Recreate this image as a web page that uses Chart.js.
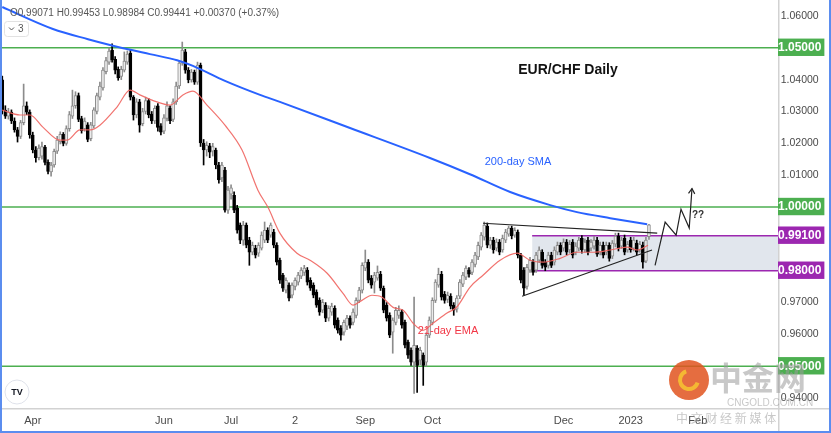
<!DOCTYPE html>
<html>
<head>
<meta charset="utf-8">
<title>EUR/CHF Daily</title>
<script src="https://cdn.jsdelivr.net/npm/chart.js@4.4.0/dist/chart.umd.min.js"></script>
<style>
  html, body { margin: 0; padding: 0; background: #fff; overflow: hidden; }
  canvas { display: block; }
</style>
</head>
<body>
<canvas id="chart" width="831" height="433"></canvas>
<script>
'use strict';

/* ─── Daily candles (index 0 = mid-March 2022, one per weekday) ─── */
const opens = [
  1.0399,1.0304,1.0285,1.0298,1.0270,1.0242,1.0222,1.0265,1.0318,1.0298,
  1.0226,1.0179,1.0155,1.0160,1.0188,1.0140,1.0110,1.0132,1.0175,1.0205,
  1.0228,1.0200,1.0246,1.0285,1.0318,1.0350,1.0278,1.0246,1.0258,1.0215,
  1.0255,1.0300,1.0345,1.0374,1.0425,1.0455,1.0493,1.0464,1.0432,1.0410,
  1.0430,1.0455,1.0483,1.0345,1.0289,1.0330,1.0262,1.0300,1.0334,1.0292,
  1.0270,1.0318,1.0255,1.0238,1.0278,1.0310,1.0275,1.0330,1.0380,1.0452,
  1.0487,1.0430,1.0399,1.0424,1.0392,1.0446,1.0201,1.0179,1.0192,1.0175,
  1.0179,1.0132,1.0091,1.0116,0.9990,1.0040,1.0037,0.9997,0.9943,0.9896,
  0.9943,0.9896,0.9858,0.9871,0.9855,0.9871,0.9896,0.9927,0.9912,0.9921,
  0.9880,0.9833,0.9786,0.9739,0.9755,0.9723,0.9751,0.9764,0.9783,0.9795,
  0.9802,0.9770,0.9755,0.9733,0.9707,0.9676,0.9692,0.9651,0.9670,0.9682,
  0.9645,0.9620,0.9607,0.9626,0.9651,0.9638,0.9660,0.9707,0.9739,0.9808,
  0.9827,0.9777,0.9764,0.9777,0.9789,0.9745,0.9692,0.9660,0.9607,0.9638,
  0.9660,0.9670,0.9638,0.9576,0.9550,0.9513,0.9557,0.9519,0.9535,0.9513,
  0.9598,0.9638,0.9707,0.9755,0.9789,0.9726,0.9710,0.9720,0.9692,0.9679,
  0.9720,0.9758,0.9780,0.9802,0.9795,0.9820,0.9843,0.9874,0.9905,0.9940,
  0.9880,0.9896,0.9871,0.9890,0.9865,0.9896,0.9915,0.9934,0.9912,0.9921,
  0.9849,0.9802,0.9751,0.9802,0.9827,0.9802,0.9833,0.9858,0.9827,0.9817,
  0.9849,0.9827,0.9858,0.9880,0.9871,0.9890,0.9865,0.9890,0.9858,0.9871,
  0.9902,0.9865,0.9896,0.9871,0.9877,0.9896,0.9858,0.9880,0.9858,0.9880,
  0.9846,0.9883,0.9909,0.9877,0.9902,0.9865,0.9896,0.9871,0.9887,0.9865,
  0.9880,0.9830,0.99071
];
const highs = [
  1.0411,1.0318,1.0310,1.0305,1.0280,1.0250,1.0272,1.0386,1.0330,1.0305,
  1.0235,1.0190,1.0195,1.0204,1.0194,1.0148,1.0140,1.0182,1.0222,1.0236,
  1.0234,1.0255,1.0300,1.0367,1.0362,1.0358,1.0285,1.0280,1.0265,1.0266,
  1.0312,1.0358,1.0392,1.0438,1.0470,1.0500,1.0512,1.0472,1.0440,1.0442,
  1.0487,1.0490,1.0493,1.0350,1.0340,1.0338,1.0310,1.0345,1.0340,1.0300,
  1.0318,1.0325,1.0262,1.0290,1.0330,1.0318,1.0340,1.0392,1.0460,1.0518,
  1.0495,1.0438,1.0432,1.0430,1.0455,1.0452,1.0212,1.0205,1.0200,1.0200,
  1.0185,1.0140,1.0140,1.0125,1.0065,1.0070,1.0048,1.0005,0.9950,0.9955,
  0.9950,0.9905,0.9890,0.9880,0.9888,0.9922,0.9953,0.9935,0.9950,0.9930,
  0.9888,0.9840,0.9792,0.9778,0.9762,0.9762,0.9778,0.9795,0.9810,0.9817,
  0.9810,0.9778,0.9762,0.9740,0.9715,0.9710,0.9700,0.9690,0.9698,0.9690,
  0.9652,0.9628,0.9645,0.9660,0.9658,0.9680,0.9715,0.9748,0.9825,0.9865,
  0.9835,0.9785,0.9795,0.9815,0.9798,0.9752,0.9700,0.9668,0.9652,0.9685,
  0.9690,0.9678,0.9645,0.9582,0.9558,0.9717,0.9565,0.9560,0.9542,0.9605,
  0.9655,0.9715,0.9772,0.9808,0.9798,0.9735,0.9733,0.9728,0.9700,0.9722,
  0.9772,0.9795,0.9815,0.9810,0.9835,0.9858,0.9890,0.9920,0.9953,0.9950,
  0.9905,0.9905,0.9900,0.9898,0.9912,0.9930,0.9940,0.9940,0.9935,0.9928,
  0.9855,0.9810,0.9820,0.9842,0.9835,0.9858,0.9875,0.9866,0.9835,0.9858,
  0.9858,0.9875,0.9890,0.9888,0.9900,0.9898,0.9895,0.9898,0.9888,0.9905,
  0.9910,0.9900,0.9905,0.9898,0.9908,0.9905,0.9890,0.9890,0.9890,0.9888,
  0.9895,0.9918,0.9918,0.9905,0.9912,0.9892,0.9905,0.9905,0.9896,0.9892,
  0.9890,0.9905,0.99453
];
const lows = [
  1.0292,1.0278,1.0276,1.0262,1.0235,1.0204,1.0215,1.0258,1.0290,1.0216,
  1.0170,1.0141,1.0148,1.0150,1.0132,1.0104,1.0097,1.0125,1.0168,1.0198,
  1.0192,1.0194,1.0238,1.0278,1.0310,1.0268,1.0232,1.0238,1.0205,1.0208,
  1.0248,1.0292,1.0336,1.0367,1.0418,1.0448,1.0455,1.0418,1.0398,1.0400,
  1.0424,1.0448,1.0336,1.0273,1.0280,1.0235,1.0255,1.0292,1.0280,1.0262,
  1.0262,1.0238,1.0226,1.0230,1.0270,1.0262,1.0268,1.0322,1.0372,1.0445,
  1.0420,1.0390,1.0392,1.0385,1.0385,1.0190,1.0132,1.0160,1.0155,1.0160,
  1.0120,1.0075,1.0080,0.9984,0.9980,1.0025,0.9982,0.9918,0.9885,0.9880,
  0.9872,0.9817,0.9850,0.9840,0.9845,0.9865,0.9888,0.9888,0.9905,0.9872,
  0.9818,0.9760,0.9735,0.9730,0.9705,0.9715,0.9740,0.9755,0.9775,0.9785,
  0.9755,0.9738,0.9715,0.9685,0.9660,0.9668,0.9640,0.9642,0.9660,0.9620,
  0.9604,0.9582,0.9598,0.9615,0.9620,0.9630,0.9652,0.9700,0.9730,0.9800,
  0.9762,0.9745,0.9730,0.9770,0.9738,0.9668,0.9642,0.9590,0.9541,0.9630,
  0.9650,0.9620,0.9558,0.9525,0.9503,0.9415,0.9418,0.9505,0.9440,0.9500,
  0.9590,0.9630,0.9700,0.9748,0.9708,0.9698,0.9700,0.9680,0.9660,0.9670,
  0.9712,0.9750,0.9772,0.9780,0.9788,0.9812,0.9835,0.9865,0.9896,0.9872,
  0.9870,0.9855,0.9862,0.9850,0.9858,0.9888,0.9908,0.9900,0.9905,0.9840,
  0.9762,0.9723,0.9742,0.9795,0.9786,0.9795,0.9825,0.9808,0.9800,0.9808,
  0.9810,0.9818,0.9850,0.9850,0.9862,0.9850,0.9855,0.9840,0.9850,0.9862,
  0.9855,0.9858,0.9850,0.9862,0.9868,0.9845,0.9850,0.9840,0.9850,0.9830,
  0.9838,0.9875,0.9862,0.9870,0.9850,0.9858,0.9858,0.9862,0.9850,0.9858,
  0.9808,0.9825,0.98984
];
const closes = [
  1.0304,1.0285,1.0298,1.0270,1.0242,1.0222,1.0265,1.0318,1.0298,1.0226,
  1.0179,1.0155,1.0185,1.0190,1.0140,1.0112,1.0132,1.0175,1.0210,1.0228,
  1.0200,1.0246,1.0290,1.0318,1.0350,1.0275,1.0240,1.0270,1.0212,1.0258,
  1.0305,1.0350,1.0380,1.0430,1.0460,1.0490,1.0462,1.0430,1.0405,1.0432,
  1.0458,1.0480,1.0345,1.0289,1.0330,1.0257,1.0300,1.0334,1.0289,1.0270,
  1.0310,1.0250,1.0235,1.0280,1.0318,1.0270,1.0330,1.0380,1.0452,1.0493,
  1.0430,1.0399,1.0424,1.0392,1.0446,1.0201,1.0179,1.0194,1.0172,1.0190,
  1.0132,1.0085,1.0132,0.9990,1.0053,1.0060,0.9990,0.9927,0.9896,0.9943,
  0.9880,0.9858,0.9880,0.9849,0.9880,0.9912,0.9927,0.9896,0.9943,0.9880,
  0.9827,0.9770,0.9745,0.9770,0.9714,0.9755,0.9770,0.9786,0.9802,0.9808,
  0.9764,0.9745,0.9723,0.9692,0.9670,0.9701,0.9651,0.9682,0.9689,0.9629,
  0.9613,0.9598,0.9638,0.9651,0.9629,0.9670,0.9707,0.9739,0.9817,0.9827,
  0.9770,0.9755,0.9786,0.9795,0.9745,0.9676,0.9651,0.9598,0.9645,0.9676,
  0.9676,0.9629,0.9566,0.9535,0.9513,0.9566,0.9503,0.9550,0.9503,0.9598,
  0.9645,0.9707,0.9764,0.9789,0.9717,0.9707,0.9723,0.9689,0.9676,0.9714,
  0.9764,0.9786,0.9808,0.9789,0.9827,0.9849,0.9880,0.9912,0.9943,0.9880,
  0.9896,0.9865,0.9890,0.9858,0.9902,0.9921,0.9934,0.9909,0.9927,0.9849,
  0.9770,0.9745,0.9811,0.9833,0.9795,0.9849,0.9865,0.9817,0.9811,0.9849,
  0.9817,0.9865,0.9880,0.9858,0.9890,0.9858,0.9883,0.9849,0.9877,0.9896,
  0.9865,0.9890,0.9858,0.9890,0.9896,0.9852,0.9880,0.9849,0.9880,0.9839,
  0.9887,0.9909,0.9871,0.9896,0.9858,0.9883,0.9865,0.9896,0.9858,0.9883,
  0.9827,0.9896,0.99441
];

/* ─── Moving averages (at sample days) ───────────────────────────── */
const smaX = [0, 16.6, 28.1, 35.3, 48.4, 57.3, 62.5, 73, 84.5, 91, 114, 140.2, 153.3, 166.5, 179.6, 188.4, 199.3, 211.4];
const smaY = [1.0628, 1.0559, 1.0527, 1.0509, 1.0480, 1.0461, 1.0443, 1.0396, 1.0352, 1.0330, 1.0248, 1.0154, 1.0103, 1.0047, 1.0006, 0.9984, 0.9965, 0.9946];
const emaX = [0, 5.8, 9.1, 13.3, 18.9, 21.2, 25.5, 28.8, 32, 37.6, 41.9, 45.1, 50.7, 55, 59.2, 62.5, 67.1, 73, 78.6, 83.8, 87.1, 91, 96.6, 100.9, 106.5, 111.7, 115, 117.9, 121.2, 124.5, 128.1, 131.4, 134.7, 137.9, 141.2, 145.8, 149, 153.3, 157.6, 163.2, 168.8, 173, 177.3, 182.9, 188.4, 193.7, 199.3, 204.8, 208.1, 211.7];
const emaY = [1.0304, 1.0289, 1.0289, 1.0251, 1.0210, 1.0210, 1.0242, 1.0242, 1.0257, 1.0314, 1.0367, 1.0352, 1.0330, 1.0320, 1.0352, 1.0364, 1.0320, 1.0257, 1.0179, 1.0053, 0.9999, 0.9918, 0.9855, 0.9833, 0.9792, 0.9729, 0.9692, 0.9707, 0.9723, 0.9717, 0.9685, 0.9676, 0.9635, 0.9613, 0.9635, 0.9667, 0.9686, 0.9748, 0.9786, 0.9833, 0.9855, 0.9833, 0.9827, 0.9839, 0.9858, 0.9858, 0.9865, 0.9874, 0.9865, 0.9880];

/* ─── Drawn levels and annotations ───────────────────────────────── */
const greenLevels  = [1.05, 1.00, 0.95];
const rangeTop     = 0.991;
const rangeBottom  = 0.98;
const rangeStart   = 173.7;
const triUpperX = [157.6, 214.7], triUpperY = [0.9949, 0.9918];
const triLowerX = [170.4, 213.0], triLowerY = [0.9720, 0.9865];
const zigX = [214.0, 217.3, 220.9, 222.5, 225.2, 226.1];
const zigY = [0.9817, 0.9953, 0.9912, 0.9993, 0.9934, 1.0058];

/* ─── Axes ───────────────────────────────────────────────────────── */
const yTicks   = [1.06, 1.05, 1.04, 1.03, 1.02, 1.01, 1.00, 0.991, 0.98, 0.97, 0.96, 0.95, 0.94];
const xTickIdx = [10, 53, 75, 96, 119, 141, 184, 206, 228];
const xTickLbl = ['Apr', 'Jun', 'Jul', '2', 'Sep', 'Oct', 'Dec', '2023', 'Feb'];
const X_MIN = -0.75, X_MAX = 254.3, Y_MIN = 0.9369, Y_MAX = 1.0650;

const FONT   = "'Liberation Sans', Arial, sans-serif";
const GREEN  = '#4caf50';
const PURPLE = '#9c27b0';
const UP_FILL = '#ebebeb', UP_LINE = '#8c8c8c', DOWN = '#000000';

const isUp = closes.map((c, i) => c >= opens[i]);
const pts  = (xs, ys) => xs.map((x, i) => ({ x, y: ys[i] }));
const hLine = (y, x0) => [{ x: x0, y }, { x: X_MAX, y }];
const near = (a, b) => Math.abs(a - b) < 1e-6;

function tagColor(v) {
  if (v === undefined || v === null) return null;
  if (greenLevels.some(l => near(l, v))) return GREEN;
  if (near(v, rangeTop) || near(v, rangeBottom)) return PURPLE;
  return null;
}
const tickTag = c => tagColor(c && c.tick ? c.tick.value : undefined);

function lineDs(data, color, width, order, extra) {
  return { type: 'line', data, borderColor: color, borderWidth: width,
           pointRadius: 0, tension: 0, order, ...(extra || {}) };
}

const datasets = [
  /* shaded range + purple bounds */
  lineDs(hLine(rangeTop, rangeStart), PURPLE, 1.5, 22,
         { fill: '+1', backgroundColor: 'rgba(205,213,225,0.6)' }),
  lineDs(hLine(rangeBottom, rangeStart), PURPLE, 1.5, 21),
  /* green horizontal levels */
  ...greenLevels.map(l => lineDs(hLine(l, X_MIN), GREEN, 1.6, 20)),
  /* wicks */
  {
    type: 'bar', order: 6, grouped: false, barThickness: 1,
    data: highs.map((h, i) => ({ x: i, y: [lows[i], h] })),
    backgroundColor: c => isUp[c.dataIndex] ? UP_LINE : DOWN,
  },
  /* bodies */
  {
    type: 'bar', order: 5, grouped: false, barThickness: 3, minBarLength: 1,
    borderWidth: 1, borderSkipped: false,
    data: opens.map((o, i) => ({ x: i, y: [o, closes[i]] })),
    backgroundColor: c => isUp[c.dataIndex] ? UP_FILL : DOWN,
    borderColor: c => isUp[c.dataIndex] ? UP_LINE : DOWN,
  },
  /* moving averages */
  lineDs(pts(emaX, emaY), 'rgba(240,100,95,0.9)', 1.2, 3, { cubicInterpolationMode: 'monotone' }),
  lineDs(pts(smaX, smaY), '#2962ff', 2, 2, { cubicInterpolationMode: 'monotone' }),
  /* triangle + projected path */
  lineDs(pts(triUpperX, triUpperY), '#222', 1.2, 1),
  lineDs(pts(triLowerX, triLowerY), '#222', 1.2, 1),
  lineDs(pts(zigX, zigY), '#222', 1.2, 1, { clip: false }),
];

/* ─── Text, frame and arrow ──────────────────────────────────────── */
const frame = {
  id: 'frame',
  beforeDraw(chart) {
    const { ctx, chartArea: a, width, height } = chart;
    ctx.save();
    ctx.fillStyle = '#fff';
    ctx.fillRect(0, 0, width, height);
    ctx.strokeStyle = '#d2d2d2';
    ctx.lineWidth = 1.5;
    ctx.beginPath();
    ctx.moveTo(0, a.bottom + 0.75); ctx.lineTo(width, a.bottom + 0.75);
    ctx.moveTo(a.right + 0.75, 0); ctx.lineTo(a.right + 0.75, height);
    ctx.stroke();
    ctx.restore();
  },
  afterDraw(chart) {
    const { ctx, width, height, scales: { x, y } } = chart;
    ctx.save();

    /* arrow head on the projected path */
    const n = zigX.length;
    const x1 = x.getPixelForValue(zigX[n - 2]), y1 = y.getPixelForValue(zigY[n - 2]);
    const x2 = x.getPixelForValue(zigX[n - 1]), y2 = y.getPixelForValue(zigY[n - 1]);
    const ang = Math.atan2(y2 - y1, x2 - x1);
    ctx.strokeStyle = '#222'; ctx.lineWidth = 1.2;
    ctx.beginPath();
    ctx.moveTo(x2 - 6 * Math.cos(ang - 0.55), y2 - 6 * Math.sin(ang - 0.55));
    ctx.lineTo(x2, y2);
    ctx.lineTo(x2 - 6 * Math.cos(ang + 0.55), y2 - 6 * Math.sin(ang + 0.55));
    ctx.stroke();

    /* labels */
    ctx.textBaseline = 'middle';
    ctx.textAlign = 'center';
    ctx.fillStyle = '#111';
    ctx.font = `bold 14px ${FONT}`;
    ctx.fillText('EUR/CHF Daily', 568, 70);
    ctx.fillStyle = '#2962ff';
    ctx.font = `11px ${FONT}`;
    ctx.fillText('200-day SMA', 518, 162);
    ctx.fillStyle = '#f23645';
    ctx.fillText('21-day EMA', 448, 331);
    ctx.fillStyle = '#333';
    ctx.font = `bold 10px ${FONT}`;
    ctx.fillText('??', 698, 215);

    /* legend line top-left */
    ctx.textAlign = 'left';
    ctx.fillStyle = '#555';
    ctx.font = `10px ${FONT}`;
    ctx.fillText('O0.99071 H0.99453 L0.98984 C0.99441 +0.00370 (+0.37%)', 10, 13);
    ctx.strokeStyle = '#e2e2e2'; ctx.lineWidth = 1;
    ctx.beginPath(); ctx.roundRect(4.5, 21.5, 24, 15, 3); ctx.stroke();
    ctx.strokeStyle = '#555';
    ctx.beginPath(); ctx.moveTo(9, 27.5); ctx.lineTo(11.5, 30); ctx.lineTo(14, 27.5); ctx.stroke();
    ctx.fillText('3', 18, 29.5);

    /* TradingView badge */
    ctx.fillStyle = '#fff'; ctx.strokeStyle = '#e0e3eb';
    ctx.beginPath(); ctx.arc(17, 392, 12, 0, Math.PI * 2); ctx.fill(); ctx.stroke();
    ctx.fillStyle = '#131722'; ctx.textAlign = 'center';
    ctx.font = `bold 9px ${FONT}`;
    ctx.fillText('TV', 17, 392.5);

    /* watermark */
    ctx.globalAlpha = 0.85;
    ctx.fillStyle = '#e0531f';
    ctx.beginPath(); ctx.arc(689, 380, 20, 0, Math.PI * 2); ctx.fill();
    ctx.strokeStyle = '#f7c531'; ctx.lineWidth = 4;
    ctx.beginPath(); ctx.arc(689, 380, 9, 0.3, Math.PI * 1.4); ctx.stroke();
    ctx.globalAlpha = 0.55;
    ctx.fillStyle = '#9a9a9a';
    ctx.font = `bold 32px 'Noto Sans CJK SC', sans-serif`;
    ctx.textAlign = 'left';
    ctx.fillText('中金网', 710, 378);
    ctx.font = `10px ${FONT}`;
    ctx.fillText('CNGOLD.COM.CN', 727, 403);
    ctx.font = `12px 'Noto Sans CJK SC', sans-serif`;
    ctx.fillText('中 文 财 经 新 媒 体', 676, 418);
    ctx.globalAlpha = 1;

    /* outer blue frame */
    ctx.strokeStyle = '#5b8def'; ctx.lineWidth = 2;
    ctx.beginPath();
    ctx.moveTo(1, 0); ctx.lineTo(1, height - 1);
    ctx.lineTo(width - 1, height - 1); ctx.lineTo(width - 1, 0);
    ctx.stroke();
    ctx.restore();
  }
};

new Chart(document.getElementById('chart'), {
  type: 'bar',
  data: { datasets },
  options: {
    responsive: false,
    animation: false,
    devicePixelRatio: 1,
    layout: { padding: 0 },
    plugins: { legend: { display: false }, tooltip: { enabled: false } },
    scales: {
      x: {
        type: 'linear', min: X_MIN, max: X_MAX, offset: false,
        grid: { display: false, drawTicks: false }, border: { display: false },
        afterBuildTicks: s => { s.ticks = xTickIdx.map(v => ({ value: v })); },
        afterFit: s => { s.height = 25; s.paddingLeft = 0; s.paddingRight = 0; },
        ticks: {
          autoSkip: false, maxRotation: 0, padding: 6, color: '#4a4a4a',
          font: { family: FONT, size: 11 },
          callback: (v, i) => xTickLbl[i],
        },
      },
      y: {
        type: 'linear', position: 'right', min: Y_MIN, max: Y_MAX,
        grid: { display: false, drawTicks: false }, border: { display: false },
        afterBuildTicks: s => { s.ticks = yTicks.map(v => ({ value: v })); },
        afterFit: s => { s.width = 53; s.paddingTop = 0; s.paddingBottom = 0; },
        ticks: {
          autoSkip: false, padding: 0, crossAlign: 'center',
          callback: v => v.toFixed(5),
          color: c => tickTag(c) ? '#fff' : '#4a4a4a',
          font: c => tickTag(c)
            ? { family: FONT, size: 12, weight: 'bold' }
            : { family: FONT, size: 10.5 },
          showLabelBackdrop: true,
          backdropColor: c => tickTag(c) || 'rgba(0,0,0,0)',
          backdropPadding: { top: 2, bottom: 1, left: 3, right: 3 },
        },
      },
    },
  },
  plugins: [frame],
});
</script>
</body>
</html>
